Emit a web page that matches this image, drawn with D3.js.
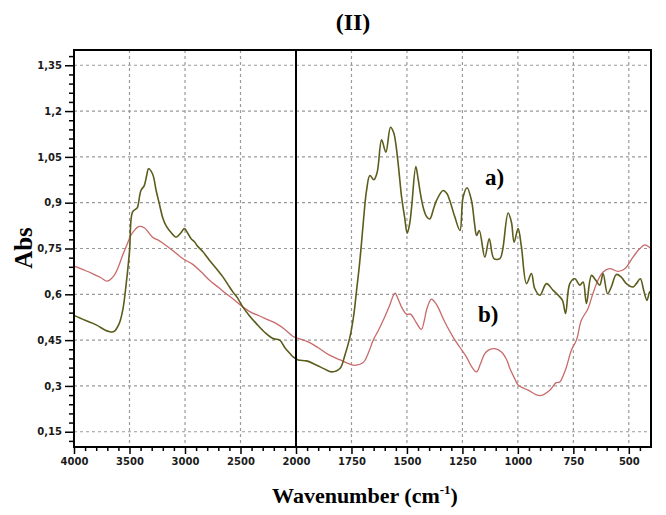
<!DOCTYPE html>
<html>
<head>
<meta charset="utf-8">
<script src="https://cdn.jsdelivr.net/npm/d3@7"></script>
<style>
  body { margin: 0; background: #fff; }
  svg { display: block; }
</style>
</head>
<body>
<svg id="chart"></svg>
<script>
// spectrum a) (olive)
const waveA = [4000, 3900, 3800, 3720, 3684, 3640, 3593, 3560, 3533, 3500, 3473, 3440, 3428, 3397, 3367, 3345, 3328, 3292, 3260, 3231,
  3200, 3171, 3120, 3081, 3040, 3006, 2975, 2945, 2915, 2885, 2840, 2779, 2720, 2659, 2610, 2569, 2530, 2478, 2420, 2357,
  2280, 2207, 2146, 2100, 2054, 2026, 1990, 1952, 1907, 1870, 1839, 1802, 1780, 1757, 1740, 1727, 1715, 1705, 1695, 1682,
  1667, 1649, 1634, 1614, 1595, 1574, 1560, 1550, 1537, 1524, 1510, 1499, 1488, 1479, 1460, 1450, 1439, 1425, 1412, 1397,
  1380, 1367, 1337, 1320, 1307, 1284, 1261, 1247, 1229, 1209, 1195, 1186, 1174, 1149, 1129, 1108, 1081, 1069, 1044, 1029,
  1017, 999, 984, 961, 939, 924, 901, 871, 841, 818, 799, 785, 766, 743, 721, 706, 691, 668, 649, 631,
  616, 596, 579, 556, 534, 511, 481, 466, 448, 433, 418, 406, 400];
const absA = [0.531, 0.515, 0.5, 0.483, 0.478, 0.478, 0.504, 0.55, 0.624, 0.74, 0.869, 0.88, 0.885, 0.94, 0.956, 0.99, 1.011, 0.994, 0.94, 0.896,
  0.85, 0.825, 0.8, 0.787, 0.8, 0.815, 0.8, 0.782, 0.772, 0.757, 0.74, 0.711, 0.685, 0.657, 0.63, 0.608, 0.59, 0.558, 0.53, 0.504,
  0.475, 0.455, 0.45, 0.425, 0.406, 0.395, 0.385, 0.382, 0.368, 0.355, 0.346, 0.357, 0.4, 0.46, 0.53, 0.613, 0.69, 0.766, 0.85, 0.94,
  0.989, 0.975, 1.0, 1.106, 1.065, 1.147, 1.13, 1.092, 1.01, 0.918, 0.85, 0.8, 0.83, 0.885, 1.018, 0.98, 0.929, 0.88, 0.855, 0.847,
  0.88, 0.907, 0.94, 0.93, 0.907, 0.853, 0.809, 0.918, 0.949, 0.907, 0.83, 0.793, 0.809, 0.722, 0.782, 0.717, 0.717, 0.744, 0.866, 0.836,
  0.771, 0.815, 0.755, 0.635, 0.668, 0.619, 0.597, 0.635, 0.613, 0.597, 0.58, 0.537, 0.635, 0.651, 0.63, 0.64, 0.57, 0.662, 0.646, 0.63,
  0.668, 0.602, 0.624, 0.665, 0.656, 0.635, 0.624, 0.635, 0.651, 0.613, 0.58, 0.608, 0.6];

// spectrum b) (red)
const waveB = [4000, 3900, 3835, 3760, 3699, 3638, 3600, 3563, 3520, 3488, 3450, 3419, 3367, 3292, 3230, 3171, 3100, 3021, 2930, 2850,
  2779, 2700, 2629, 2550, 2478, 2400, 2327, 2250, 2177, 2100, 2054, 2026, 1945, 1900, 1847, 1800, 1742, 1727, 1700, 1689,
  1670, 1652, 1630, 1607, 1580, 1554, 1540, 1524, 1502, 1484, 1460, 1435, 1420, 1412, 1390, 1375, 1360, 1330, 1292, 1260,
  1232, 1210, 1186, 1170, 1149, 1130, 1104, 1074, 1050, 1036, 1015, 999, 954, 901, 856, 829, 811, 795, 781, 759,
  736, 714, 684, 662, 639, 616, 586, 549, 518, 481, 451, 428, 409, 400];
const absB = [0.692, 0.678, 0.668, 0.655, 0.643, 0.662, 0.69, 0.727, 0.765, 0.793, 0.812, 0.822, 0.818, 0.787, 0.775, 0.76, 0.74, 0.717, 0.698, 0.672,
  0.646, 0.623, 0.602, 0.58, 0.558, 0.54, 0.529, 0.516, 0.504, 0.485, 0.47, 0.462, 0.444, 0.425, 0.4, 0.385, 0.368, 0.368, 0.375, 0.384,
  0.415, 0.45, 0.48, 0.515, 0.56, 0.604, 0.585, 0.558, 0.535, 0.535, 0.51, 0.485, 0.52, 0.548, 0.584, 0.575, 0.558, 0.51, 0.46, 0.425,
  0.395, 0.365, 0.346, 0.37, 0.406, 0.418, 0.422, 0.411, 0.385, 0.357, 0.325, 0.303, 0.286, 0.268, 0.286, 0.31, 0.313, 0.335, 0.362, 0.417,
  0.45, 0.515, 0.553, 0.602, 0.646, 0.673, 0.684, 0.675, 0.684, 0.722, 0.749, 0.762, 0.755, 0.748];

const xTicks = [4000, 3500, 3000, 2500, 2000, 1750, 1500, 1250, 1000, 750, 500];
const yTicks = [0.15, 0.3, 0.45, 0.6, 0.75, 0.9, 1.05, 1.2, 1.35];

const width = 666;
const height = 515;
const plotLeft = 74, plotRight = 651, plotTop = 50, plotBottom = 447;

const svg = d3.select("#chart")
  .attr("width", width)
  .attr("height", height)
  .attr("viewBox", `0 0 ${width} ${height}`);

// split axis: 500 per division left of 2000, 250 per division right of it
const x = d3.scaleLinear().domain([4000, 2000, 400]).range([plotLeft, 296, plotRight]);
const y = d3.scaleLinear().domain([0.1, 1.4]).range([plotBottom, plotTop]);

const xMinor = d3.range(3900, 2000, -100).concat(d3.range(1950, 400, -50))
  .filter((d) => !xTicks.includes(d));
const yMinor = d3.range(0.12, 1.4, 0.03).filter((d) => !yTicks.some((t) => Math.abs(t - d) < 1e-6));

// grid
const grid = svg.append("g")
  .attr("stroke", "#9a9a9a")
  .attr("stroke-width", 1.2)
  .attr("stroke-dasharray", "3,3");
grid.selectAll(".gx")
  .data(xTicks.filter((d) => d !== 4000 && d !== 2000))
  .join("line")
  .attr("class", "gx")
  .attr("x1", (d) => x(d)).attr("x2", (d) => x(d))
  .attr("y1", plotTop).attr("y2", plotBottom);
grid.selectAll(".gy")
  .data(yTicks)
  .join("line")
  .attr("class", "gy")
  .attr("x1", plotLeft).attr("x2", plotRight)
  .attr("y1", (d) => y(d)).attr("y2", (d) => y(d));

// curves
const line = d3.line()
  .x((d) => x(d[0]))
  .y((d) => y(d[1]))
  .curve(d3.curveCatmullRom.alpha(0.5));

svg.append("path")
  .datum(d3.zip(waveB, absB))
  .attr("fill", "none")
  .attr("stroke", "#c96a6a")
  .attr("stroke-width", 1.3)
  .attr("d", line);

svg.append("path")
  .datum(d3.zip(waveA, absA))
  .attr("fill", "none")
  .attr("stroke", "#5c5c1c")
  .attr("stroke-width", 1.6)
  .attr("d", line);

// axes
const fmt = (d) => d3.format(".2~f")(d).replace(".", ",");

const gx = svg.append("g")
  .attr("transform", `translate(0,${plotBottom})`)
  .call(d3.axisBottom(x).tickValues(xTicks).tickSize(7).tickSizeOuter(0).tickPadding(4).tickFormat(d3.format("d")));
svg.append("g")
  .attr("transform", `translate(0,${plotBottom})`)
  .call(d3.axisBottom(x).tickValues(xMinor).tickSize(4).tickSizeOuter(0).tickFormat(""))
  .call((g) => g.select(".domain").remove());

const gy = svg.append("g")
  .attr("transform", `translate(${plotLeft},0)`)
  .call(d3.axisLeft(y).tickValues(yTicks).tickSize(9).tickSizeOuter(0).tickPadding(3).tickFormat(fmt));
svg.append("g")
  .attr("transform", `translate(${plotLeft},0)`)
  .call(d3.axisLeft(y).tickValues(yMinor).tickSize(5).tickSizeOuter(0).tickFormat(""))
  .call((g) => g.select(".domain").remove());

svg.selectAll(".tick line").attr("stroke", "#000").attr("stroke-width", 1.5);
[gx, gy].forEach((g) => g.selectAll(".tick text")
  .attr("font-family", "DejaVu Sans")
  .attr("font-weight", "bold")
  .attr("font-size", 10)
  .attr("fill", "#1a1a1a"));

// frame and 2000 divider
svg.append("rect")
  .attr("x", plotLeft).attr("y", plotTop)
  .attr("width", plotRight - plotLeft).attr("height", plotBottom - plotTop)
  .attr("fill", "none")
  .attr("stroke", "#000")
  .attr("stroke-width", 2);
svg.append("line")
  .attr("x1", x(2000)).attr("x2", x(2000))
  .attr("y1", plotTop).attr("y2", plotBottom)
  .attr("stroke", "#000")
  .attr("stroke-width", 2);

// texts
const serif = "Liberation Serif";
svg.append("text")
  .attr("x", 353).attr("y", 30)
  .attr("text-anchor", "middle")
  .attr("font-family", serif).attr("font-weight", "bold").attr("font-size", 24)
  .text("(II)");

svg.append("text")
  .attr("transform", "translate(32,248) rotate(-90)")
  .attr("text-anchor", "middle")
  .attr("font-family", serif).attr("font-weight", "bold").attr("font-size", 25)
  .text("Abs");

const xl = svg.append("text")
  .attr("x", 365).attr("y", 503)
  .attr("text-anchor", "middle")
  .attr("font-family", serif).attr("font-weight", "bold").attr("font-size", 22);
xl.append("tspan").text("Wavenumber (cm");
xl.append("tspan").attr("font-size", 13).attr("dy", -9).text("-1");
xl.append("tspan").attr("dy", 9).text(")");

svg.append("text")
  .attr("x", 485).attr("y", 185)
  .attr("font-family", serif).attr("font-weight", "bold").attr("font-size", 23)
  .text("a)");
svg.append("text")
  .attr("x", 478).attr("y", 322)
  .attr("font-family", serif).attr("font-weight", "bold").attr("font-size", 23)
  .text("b)");
</script>
</body>
</html>
